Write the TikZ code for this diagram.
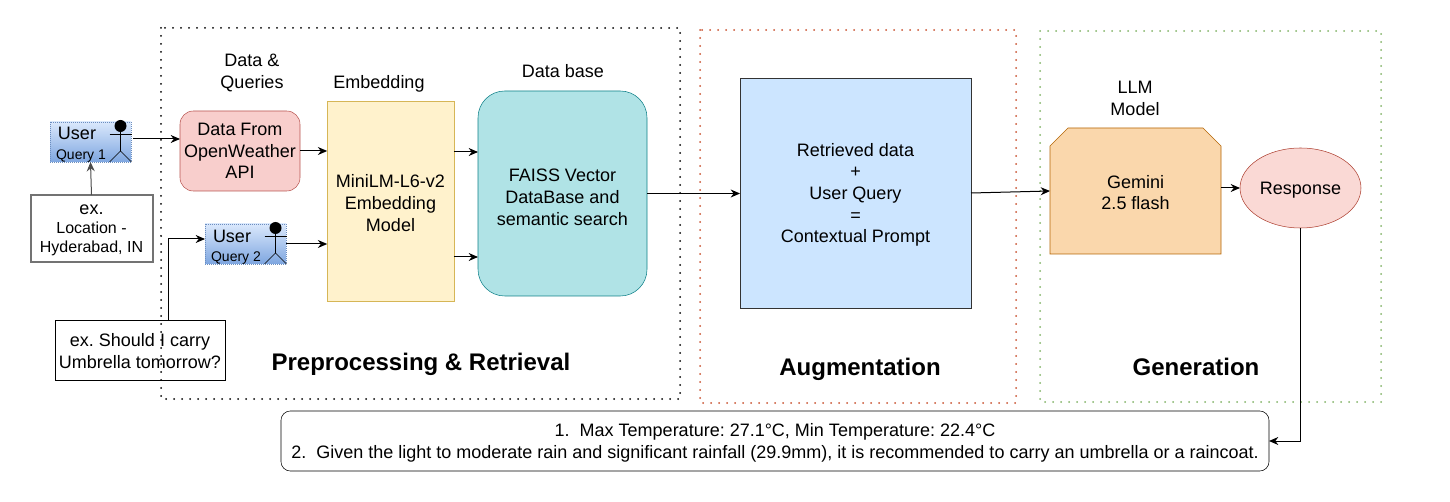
\documentclass[tikz,border=0pt]{standalone}
\usepackage{fontspec}
\setmainfont{Liberation Sans}
\usetikzlibrary{arrows.meta,shapes.geometric,shapes.misc}
\definecolor{redfill}{HTML}{F8CECC}
\definecolor{redline}{HTML}{B85450}
\definecolor{yellowfill}{HTML}{FFF2CC}
\definecolor{yellowline}{HTML}{D6B656}
\definecolor{tealfill}{HTML}{B0E3E6}
\definecolor{tealline}{HTML}{0E8088}
\definecolor{bluefill}{HTML}{CCE5FF}
\definecolor{orangefill}{HTML}{FAD7AC}
\definecolor{orangeline}{HTML}{B46504}
\definecolor{respfill}{HTML}{FAD9D5}
\definecolor{respline}{HTML}{AE4132}
\definecolor{usertop}{HTML}{DAE8FC}
\definecolor{userbottom}{HTML}{7EA6E0}
\definecolor{userline}{HTML}{6C8EBF}
\definecolor{framered}{HTML}{C8502E}
\definecolor{framegreen}{HTML}{82B366}
\tikzset{
	x=0.75pt, y=-0.75pt,
	every node/.style={font=\fontsize{13.5}{16.3}\selectfont, align=center, text=black, text depth=0pt, inner sep=0pt, outer sep=0pt},
	flow/.style={line width=0.75pt, -{Stealth[length=7pt,width=6pt]}},
	frame/.style={line width=1.5pt, line cap=round, dash pattern=on 0pt off 6pt},
	title/.style={font=\fontsize{18}{20}\selectfont\bfseries},
	userbox/.style={draw=userline, densely dotted, line width=0.5pt, top color=usertop, bottom color=userbottom, minimum width=60.75pt, minimum height=30pt},
	notebox/.style={draw=black, line width=0.75pt},
}
\def\actor(#1,#2){
	\fill[black] (#1, #2-13) circle (4.5pt);
	\draw[line width=0.5pt] (#1, #2-7) -- (#1, #2+12) (#1-11, #2-5) -- (#1+11, #2-5);
	\draw[line width=0.5pt] (#1-11, #2+23) -- (#1, #2+12) -- (#1+11, #2+23);
}

\begin{document}
\frenchspacing
\begin{tikzpicture}
	\useasboundingbox (0, 0) rectangle (1450, 502);

	%%%%% frames %%%%%
	\draw[frame, black] (161, 28) rectangle (680, 399);
	\draw[frame, framered] (700, 30) rectangle (1016, 403);
	\draw[frame, framegreen] (1040, 31) rectangle (1381, 402);

	%%%%% users %%%%%
	\node[userbox] (user1) at (90.5, 142) {};
	\node (lbluser1) at (77, 133) {User};
	\node[font=\fontsize{10.5}{12}\selectfont] (lblq1) at (81, 155) {Query 1};
	\actor(120.5, 139)

	\node[userbox] (user2) at (245.5, 244) {};
	\node (lbluser2) at (232, 236) {User};
	\node[font=\fontsize{10.5}{12}\selectfont] (lblq2) at (236, 256.5) {Query 2};
	\actor(275.5, 241)

	\node[notebox, draw=black!55, line width=1.5pt, minimum width=91.5pt, minimum height=50pt, font=\fontsize{13.5}{15}\selectfont] (ex1) at (91.5, 228.5) {ex.\\[-1pt]{\fontsize{12}{15}\selectfont Location -}\\[-1pt]{\fontsize{12}{15}\selectfont Hyderabad, IN}};
	\node[notebox, minimum width=127.5pt, minimum height=45pt] (ex2) at (140, 351) {ex. Should I carry\\Umbrella tomorrow?};

	%%%%% boxes %%%%%
	\node[draw=redline, fill=redfill, rounded corners=10pt, minimum width=90pt, minimum height=60pt] (data) at (240, 151) {Data From\\OpenWeather\\API};
	\node[draw=yellowline, fill=yellowfill, minimum width=95pt, minimum height=150pt] (embed) at (390.5, 201) {\rule{0pt}{13pt}MiniLM-L6-v2\\Embedding\\Model};
	\node[draw=tealline, fill=tealfill, rounded corners=20pt, minimum width=126.75pt, minimum height=153.75pt] (faiss) at (562.5, 193.5) {\rule{0pt}{15pt}FAISS Vector\\DataBase and\\semantic search};
	\node[draw=black!80, fill=bluefill, minimum width=173.25pt, minimum height=172.5pt] (prompt) at (855.5, 193) {Retrieved data\\+\\User Query\\=\\Contextual Prompt};
	\node[chamfered rectangle, chamfered rectangle corners={north west,north east}, chamfered rectangle xsep=8.6pt, chamfered rectangle ysep=4.9pt, draw=orangeline, fill=orangefill, minimum width=128.25pt, minimum height=94.5pt] (gemini) at (1135.5, 191) {\rule{0pt}{12pt}Gemini\\2.5 flash};
	\node[ellipse, draw=respline, fill=respfill, minimum width=90.75pt, minimum height=60pt] (resp) at (1300.5, 188) {Response};
	\node[draw=black, rounded corners=7pt, minimum width=741pt, minimum height=45pt, font=\fontsize{13.5}{16.5}\selectfont] (answer) at (775, 441) {1.\ \ Max Temperature: 27.1°C, Min Temperature: 22.4°C\\2.\ \ Given the light to moderate rain and significant rainfall (29.9mm), it is recommended to carry an umbrella or a raincoat.};

	%%%%% labels %%%%%
	\node (lblquery) at (252, 71) {Data \&\\Queries};
	\node (lblembed) at (379, 82) {Embedding};
	\node (lblbase) at (563, 71) {Data base};
	\node (lbllm) at (1135, 98) {LLM\\Model};
	\node[title] (ttlpre) at (421, 362) {Preprocessing \& Retrieval};
	\node[title] (ttlaug) at (860, 367) {Augmentation};
	\node[title] (ttlgen) at (1196, 367) {Generation};

	%%%%% arrows %%%%%
	\draw[flow] ([shift={(2,-3)}]user1.east) -- (data.west |- 0, 139);
	\draw[flow] (data.east) -- (embed.west |- data.east);
	\draw[flow] (user2.east) -- (embed.west |- user2.east);
	\draw[flow] (embed.east |- 0, 152) -- (faiss.west |- 0, 152);
	\draw[flow] (embed.east |- 0, 257) -- (faiss.west |- 0, 257);
	\draw[flow] (faiss.east) -- (prompt.west |- faiss.east);
	\draw[flow] (prompt.east) -- (gemini.west);
	\draw[flow] (gemini.east |- resp.west) -- (resp.west);
	\draw[flow, black!70] (ex1.north) -- (user1.south);
	\draw[flow] (ex2.north -| 168, 0) -- (168, 239) -- (user2.west |- 0, 239);
	\draw[flow] (resp.south) |- (answer.east);
\end{tikzpicture}
\end{document}
